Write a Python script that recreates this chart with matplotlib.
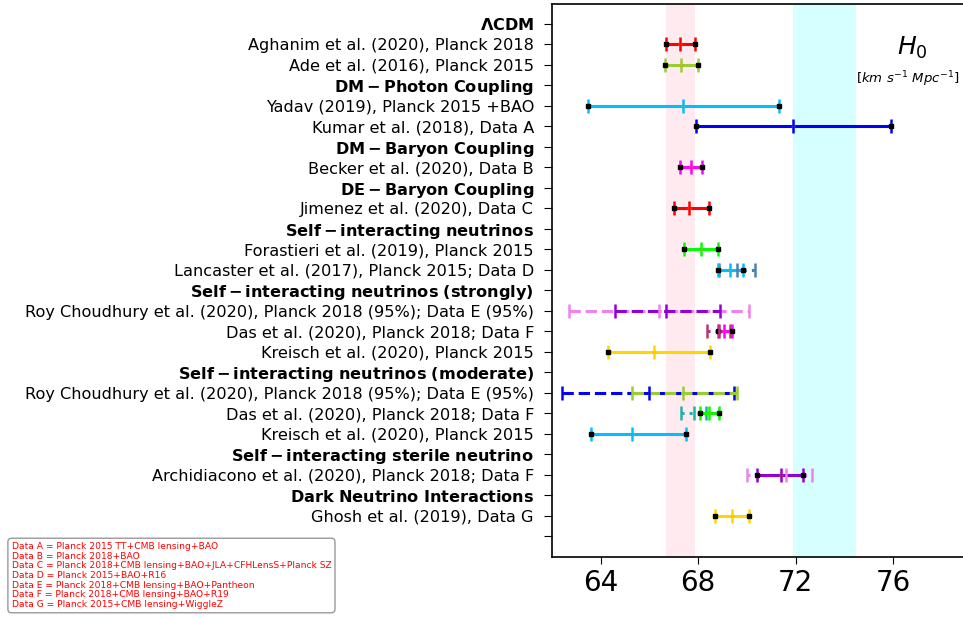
"""
H0 constraints from interacting dark sector / neutrino models,
compared against the Planck (pink) and SH0ES (cyan) bands.
"""

import matplotlib
matplotlib.use("Agg")
import matplotlib.pyplot as plt


# y tick labels, top to bottom
row_labels = [
    r"$\bf{\Lambda CDM}$",
    "Aghanim et al. (2020), Planck 2018",
    "Ade et al. (2016), Planck 2015",
    r"$\bf{DM-Photon\ Coupling}$",
    "Yadav (2019), Planck 2015 +BAO",
    "Kumar et al. (2018), Data A",
    r"$\bf{DM-Baryon\ Coupling}$",
    "Becker et al. (2020), Data B",
    r"$\bf{DE-Baryon\ Coupling}$",
    "Jimenez et al. (2020), Data C",
    r"$\bf{Self-interacting\ neutrinos}$",
    "Forastieri et al. (2019), Planck 2015",
    "Lancaster et al. (2017), Planck 2015; Data D",
    r"$\bf{Self-interacting\ neutrinos\ (strongly)}$",
    "Roy Choudhury et al. (2020), Planck 2018 (95%); Data E (95%)",
    "Das et al. (2020), Planck 2018; Data F",
    "Kreisch et al. (2020), Planck 2015",
    r"$\bf{Self-interacting\ neutrinos\ (moderate)}$",
    "Roy Choudhury et al. (2020), Planck 2018 (95%); Data E (95%)",
    "Das et al. (2020), Planck 2018; Data F",
    "Kreisch et al. (2020), Planck 2015",
    r"$\bf{Self-interacting\ sterile\ neutrino}$",
    "Archidiacono et al. (2020), Planck 2018; Data F",
    r"$\bf{Dark\ Neutrino\ Interactions}$",
    "Ghosh et al. (2019), Data G",
    "",
]

# main constraints (solid): row, lower, central, upper
solid_rows = [1, 2, 4, 5, 7, 9, 11, 12, 15, 16, 19, 20, 22, 24]
solid_lo = [66.67, 66.62, 63.49, 67.90, 67.26, 67.00, 67.42, 68.80, 68.80, 64.30, 68.09, 63.60, 70.41, 68.71]
solid_mid = [67.27, 67.30, 67.39, 71.91, 67.70, 67.64, 68.11, 69.32, 69.06, 66.20, 68.46, 65.29, 71.39, 69.38]
solid_hi = [67.87, 67.98, 71.31, 75.91, 68.15, 68.46, 68.83, 69.86, 69.40, 68.50, 68.86, 67.50, 72.31, 70.08]
solid_colors = ["red", "yellowgreen", "deepskyblue", "blue", "magenta", "red", "lime",
                "deepskyblue", "magenta", "gold", "lime", "deepskyblue", "darkviolet", "gold"]

# secondary constraints (dashed / dotted)
extra_rows = [12, 14, 14, 15, 18, 18, 19, 22]
extra_lo = [68.86, 62.70, 64.59, 68.38, 62.40, 65.29, 67.30, 70.00]
extra_mid = [69.58, 66.39, 66.67, 68.87, 65.98, 67.39, 67.83, 71.59]
extra_hi = [70.34, 70.10, 68.90, 69.31, 69.49, 69.61, 68.31, 72.69]
extra_colors = ["steelblue", "violet", "darkviolet", "#b5386e", "blue", "yellowgreen",
                "lightseagreen", "violet"]
extra_styles = [":", "--", "--", ":", "--", "--", ":", ":"]

planck_band = (66.67, 67.87)
shoes_band = (71.9, 74.5)

data_notes = [
    "Data A = Planck 2015 TT+CMB lensing+BAO",
    "Data B = Planck 2018+BAO",
    "Data C = Planck 2018+CMB lensing+BAO+JLA+CFHLensS+Planck SZ",
    "Data D = Planck 2015+BAO+R16",
    "Data E = Planck 2018+CMB lensing+BAO+Pantheon",
    "Data F = Planck 2018+CMB lensing+BAO+R19",
    "Data G = Planck 2015+CMB lensing+WiggleZ",
]


def draw_bar(ax, y, lo, mid, hi, color, ls="-", dots=True):
    eb = ax.errorbar(mid, y, xerr=[[mid - lo], [hi - mid]], fmt="|", color=color,
                     ecolor=color, elinewidth=2.2, capsize=5, capthick=1.8,
                     markersize=10, mew=1.8)
    eb[-1][0].set_linestyle(ls)
    if dots:
        ax.plot([lo, hi], [y, y], "s", color="black", markersize=2.2)
        ax.plot([mid], [y], "s", color="C1", markersize=1.8)


fig = plt.figure(figsize=(9.63, 6.19), dpi=100)
ax = fig.add_axes([0.5732, 0.1002, 0.4299, 0.893])

ax.axvspan(*planck_band, color="pink", alpha=0.3, lw=0)
ax.axvspan(*shoes_band, color="cyan", alpha=0.16, lw=0)

for i in range(len(extra_rows)):
    draw_bar(ax, extra_rows[i], extra_lo[i], extra_mid[i], extra_hi[i],
             extra_colors[i], ls=extra_styles[i], dots=False)
for i in range(len(solid_rows)):
    draw_bar(ax, solid_rows[i], solid_lo[i], solid_mid[i], solid_hi[i], solid_colors[i])

ax.set_yticks(range(len(row_labels)))
ax.set_yticklabels(row_labels, fontsize=11.6)
ax.set_ylim(len(row_labels), -0.96)
ax.set_xlim(62, 79)
ax.set_xticks([64, 68, 72, 76])
ax.tick_params(axis="x", labelsize=20, length=5)
ax.tick_params(axis="y", length=6, pad=7)
for sp in ax.spines.values():
    sp.set_linewidth(1.2)

ax.text(76.78, 1.15, r"$H_0$", fontsize=18, ha="center", va="center")
ax.text(76.6, 2.7, r"$[km\ s^{-1}\ Mpc^{-1}]$", fontsize=9.5, ha="center", va="center")

fig.text(0.012, 0.016, "\n".join(data_notes), color="red", fontsize=6.6,
         linespacing=1.1, ha="left", va="bottom",
         bbox=dict(boxstyle="round,pad=0.4", facecolor="white", edgecolor="gray", alpha=0.8))

fig.savefig("out.png", dpi=100)
